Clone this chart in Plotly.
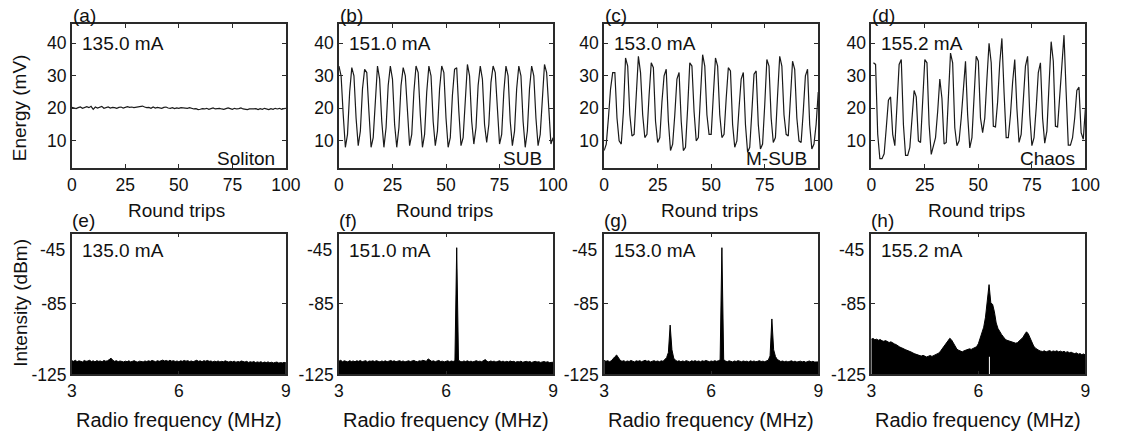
import plotly.graph_objects as go

# ---------------- data ----------------
round_trips_abc = list(range(0, 101))
round_trips_d = list(range(1, 101))

energy_soliton = [
    20.3, 20.1, 19.9, 20.2, 20.4, 20.0, 20.3, 20.5, 20.2, 20.6,
    19.7, 20.4, 20.1, 20.3, 20.6, 20.0, 20.2, 20.4, 20.1, 20.3,
    20.2, 20.0, 20.3, 20.4, 20.1, 20.2, 20.5, 20.3, 20.4, 20.2,
    20.3, 20.5, 20.6, 20.7, 20.4, 20.2, 20.3, 20.0, 20.4, 20.1,
    20.3, 20.2, 20.0, 20.3, 20.4, 20.1, 20.0, 20.2, 19.9, 20.1,
    20.0, 20.2, 20.1, 19.9, 20.0, 20.2, 20.0, 19.8, 19.9, 19.6,
    19.7, 19.9, 19.8, 20.0, 19.7, 19.9, 20.1, 19.8, 19.9, 20.0,
    19.8, 19.7, 19.9, 20.1, 19.9, 19.7, 20.0, 19.8, 19.9, 20.1,
    19.8, 19.7, 19.6, 19.8, 19.7, 19.8, 19.9, 19.6, 19.9, 19.7,
    20.0, 19.8, 19.6, 19.9, 19.7, 20.0, 19.8, 20.0, 19.7, 19.9,
    20.0,
]

energy_sub = [
    33, 30, 18, 8, 12, 25, 32.5, 30, 17, 8.5,
    13, 26, 32, 31, 19, 8, 11, 24, 33, 29,
    16, 8, 14, 27, 33, 29, 15, 8, 14, 27,
    32.5, 30, 17, 8.5, 12, 25, 33, 31, 18, 8,
    12, 25, 33, 30, 16, 8.5, 13, 26, 33, 31,
    17, 8, 11, 24, 32, 32.5, 19, 8.5, 11, 24,
    33.5, 30, 16, 9, 14, 27, 33, 29, 15, 9.5,
    15, 28, 33, 31, 18, 9, 12, 25, 33, 30,
    16, 8.5, 13, 26, 33, 30, 16, 8, 13, 26,
    33, 30, 17, 8.5, 12, 25, 33.5, 31, 18, 9,
    11,
]

energy_msub = [
    7, 9, 17, 26, 31, 31, 17, 10, 9, 19,
    35.5, 33, 18, 11.5, 12, 25, 36, 31, 18, 11,
    12, 24, 34, 32.5, 16, 9.5, 11, 22, 30, 32,
    16, 7, 9, 18, 29, 31, 16, 7, 8, 20,
    34, 33, 19, 10, 11, 24, 36.5, 33, 18, 12,
    12, 24, 35.5, 33, 18, 11, 12, 23, 32.5, 31.5,
    15, 8, 10, 20, 29, 31, 15, 6.5, 8, 19,
    30.5, 31.5, 15, 7.5, 9, 21, 35, 33, 17, 9.5,
    11, 24, 36, 33, 18, 12, 11.5, 23, 34.5, 32,
    17, 10, 9.5, 19, 30, 32, 15, 7.5, 9, 15,
    25,
]

energy_chaos = [
    34, 33.5, 12, 4.5, 4.5, 6, 14, 22.5, 23.5, 12,
    8.5, 20, 33.5, 35, 15, 5.5, 5.5, 8, 16, 25.5,
    23.5, 10, 9.5, 22, 35, 34, 15, 5.8, 8, 11,
    19, 29, 23, 9, 9.5, 22, 37, 34, 14, 8.5,
    10, 17, 27, 34.5, 18, 7.8, 11, 23, 36, 34.5,
    17, 12.5, 17, 29, 40, 34, 14.5, 14.3, 22, 34,
    41.5, 25, 11, 11, 18, 28, 35, 20, 9.5, 12,
    22, 33, 36, 18, 8.5, 11, 20, 31, 34, 17,
    9.3, 13, 27, 40.5, 34.5, 14.5, 14.3, 24, 36, 42.5,
    25, 8.7, 8.7, 11, 17, 25.5, 26.5, 12.5, 10.5, 20,
]

# RF spectra sampled every 0.05 MHz from 3 to 9 MHz
freq_mhz = [round(3 + 0.05 * i, 2) for i in range(121)]

rf_135 = [
    -117.2, -117.6, -117.0, -117.8, -117.3, -117.5, -117.9, -117.1, -117.6, -117.4,
    -117.0, -117.7, -117.3, -117.9, -117.2, -117.6, -117.4, -117.8, -117.1, -117.5,
    -117.3, -116.6, -115.8, -117.0, -117.6, -117.2, -117.8, -117.4, -117.6, -117.9,
    -117.5, -117.8, -117.3, -117.9, -117.6, -117.2, -117.8, -118.0, -117.5, -117.7,
    -117.9, -117.4, -117.7, -117.3, -117.6, -117.1, -117.5, -117.8, -117.2, -117.6,
    -117.3, -116.9, -117.4, -117.1, -117.6, -117.0, -117.5, -117.2, -117.7, -117.4,
    -117.8, -117.3, -117.6, -117.1, -117.5, -117.2, -117.7, -117.4, -117.8, -117.3,
    -117.0, -117.6, -117.3, -117.8, -117.2, -117.5, -117.1, -117.6, -117.4, -117.9,
    -117.5, -117.8, -117.4, -117.9, -117.6, -117.8, -117.3, -117.7, -118.0, -117.6,
    -117.9, -117.5, -118.1, -117.7, -117.9, -117.4, -117.8, -118.0, -117.6, -118.2,
    -117.8, -118.1, -117.7, -118.3, -117.9, -118.2, -117.8, -118.4, -118.0, -118.3,
    -117.9, -118.4, -118.1, -118.5, -118.2, -118.0, -118.6, -118.3, -118.5, -118.2,
    -118.4,
]

rf_151 = [
    -117.5, -117.0, -117.8, -117.3, -117.6, -117.9, -117.2, -117.7, -117.4, -117.8,
    -117.3, -117.6, -117.1, -117.8, -117.5, -117.2, -117.9, -117.4, -117.6, -117.3,
    -117.7, -117.2, -117.6, -117.9, -117.4, -117.7, -117.3, -117.8, -117.5, -117.1,
    -117.6, -117.3, -117.8, -117.5, -117.2, -117.7, -117.4, -117.9, -117.6, -117.3,
    -117.7, -117.4, -117.1, -117.6, -117.8, -117.3, -117.5, -117.0, -117.4, -117.6,
    -116.2, -117.2, -117.6, -117.3, -117.8, -117.4, -117.1, -117.7, -117.5, -117.9,
    -117.6, -117.3, -117.8, -117.4, -117.7, -117.2, -53.0, -117.0, -117.6, -117.9,
    -117.4, -117.7, -117.3, -117.8, -117.5, -117.9, -117.6, -117.2, -117.7, -117.5,
    -117.8, -117.3, -116.6, -117.6, -117.9, -117.4, -117.7, -117.5, -118.0, -117.6,
    -117.3, -117.8, -117.5, -118.0, -117.6, -117.9, -117.4, -117.8, -117.6, -118.1,
    -117.7, -117.9, -117.5, -118.1, -117.8, -117.6, -118.0, -117.7, -118.2, -117.9,
    -117.6, -118.0, -117.8, -118.2, -117.9, -117.7, -118.1, -117.8, -118.3, -118.0,
    -118.1,
]

rf_153 = [
    -117.0, -117.6, -117.2, -117.8, -117.3, -116.4, -115.0, -114.0, -115.5, -117.0,
    -117.6, -117.2, -117.8, -117.4, -117.7, -117.1, -117.5, -117.9, -117.3, -117.6,
    -117.2, -117.8, -117.4, -117.0, -117.6, -117.3, -117.9, -117.5, -117.2, -117.7,
    -117.4, -117.8, -117.3, -117.6, -116.8, -115.5, -112.5, -97.0, -111.0, -115.8,
    -117.0, -117.6, -117.3, -117.8, -117.4, -117.7, -117.2, -117.6, -117.9, -117.3,
    -117.6, -117.2, -117.7, -117.4, -117.8, -117.3, -117.6, -117.1, -117.5, -117.8,
    -117.4, -117.7, -117.2, -117.6, -117.3, -116.8, -53.0, -116.6, -117.4, -117.8,
    -117.3, -117.6, -117.9, -117.4, -117.7, -117.2, -117.6, -117.8, -117.4, -117.7,
    -117.5, -117.9, -117.3, -117.7, -117.4, -117.8, -117.6, -117.2, -117.7, -117.5,
    -117.8, -117.4, -116.9, -114.5, -93.5, -111.0, -114.8, -116.5, -117.3, -117.7,
    -117.4, -117.8, -117.5, -117.9, -117.6, -117.3, -117.8, -117.5, -118.0, -117.7,
    -117.5, -117.9, -117.6, -118.1, -117.7, -117.4, -117.9, -117.6, -118.0, -117.8,
    -117.9,
]

rf_155 = [
    -105.0, -104.6, -105.3, -105.0, -105.6, -105.2, -105.9, -106.2, -105.8, -106.6,
    -106.9, -106.5, -107.3, -107.7, -108.1, -108.9, -109.5, -109.9, -110.6, -110.9,
    -111.3, -111.6, -112.3, -112.6, -113.2, -113.6, -113.9, -114.4, -114.6, -114.2,
    -114.9, -115.1, -114.7, -114.3, -114.8, -114.4, -114.0, -113.6, -112.8, -111.5,
    -110.1, -108.6, -106.9, -105.6, -104.5, -105.4, -107.2, -108.9, -110.7, -111.3,
    -111.9, -112.2, -111.6, -111.2, -111.0, -110.5, -110.8, -110.2, -109.6, -109.3,
    -107.6, -104.5, -101.8, -98.2, -92.5, -83.0, -74.0, -84.5, -85.2, -89.5,
    -95.8, -98.9, -100.8, -102.3, -103.6, -105.0, -105.6, -106.0, -106.5, -106.8,
    -107.0, -107.3, -106.9, -106.0, -105.2, -104.0, -102.2, -100.8, -102.0, -104.3,
    -106.8, -108.9, -110.1, -110.9, -111.4, -111.8, -112.0, -111.6, -112.2, -111.8,
    -111.5, -112.1, -111.7, -112.0, -111.6, -112.2, -111.8, -112.3, -111.9, -112.5,
    -112.1, -112.7, -112.4, -112.9, -113.2, -112.8, -113.5, -113.2, -113.8, -113.4,
    -114.0,
]

# thin white gap seen inside the chaotic spectrum
notch_freq = [6.31, 6.31]
notch_level = [-125, -115]

currents = ["135.0 mA", "151.0 mA", "153.0 mA", "155.2 mA"]
states = ["Soliton", "SUB", "M-SUB", "Chaos"]
top_labels = ["(a)", "(b)", "(c)", "(d)"]
bottom_labels = ["(e)", "(f)", "(g)", "(h)"]
energy_ticks = [10, 20, 30, 40]
trip_ticks = [0, 25, 50, 75, 100]
freq_ticks = [3, 6, 9]
rf_ticks = [-125, -85, -45]

# ---------------- layout geometry (pixels) ----------------
W, H = 1123, 444
LEFTS = [68, 340, 610, 882]
PW = 218
TOP_ROW = (25, 172)
BOT_ROW = (239, 383)
FONT = "Liberation Sans, Arial, sans-serif"
FS = 19
TFS = 17.5
INK = "#111111"
AXC = "#2a2a2a"


def px(x):
    return x / W


def py(y):
    return 1 - y / H


fig = go.Figure()

top_series = [
    (round_trips_abc, energy_soliton),
    (round_trips_abc, energy_sub),
    (round_trips_abc, energy_msub),
    (round_trips_d, energy_chaos),
]
spectra = [rf_135, rf_151, rf_153, rf_155]

layout = dict(
    width=W, height=H,
    margin=dict(l=0, r=0, t=0, b=0, pad=0),
    paper_bgcolor="white", plot_bgcolor="white",
    showlegend=False,
    font=dict(family=FONT, size=FS, color=INK),
)

annotations = []


def ann(text, x, y, xanchor="left", yanchor="middle", textangle=0, size=FS):
    annotations.append(dict(text=text, x=px(x), y=py(y), xref="paper", yref="paper",
                            xanchor=xanchor, yanchor=yanchor, showarrow=False,
                            textangle=textangle,
                            font=dict(family=FONT, size=size, color=INK)))


for i in range(4):
    L = LEFTS[i]
    R = L + PW
    # top panel
    n = i + 1
    xa, ya = f"x{n}", f"y{n}"
    xs, ys = top_series[i]
    fig.add_trace(go.Scatter(x=xs, y=ys, mode="lines",
                             line=dict(color="#1a1a1a", width=1.2),
                             xaxis=xa, yaxis=ya, hoverinfo="skip"))
    common = dict(showline=True, linewidth=1.6, linecolor=AXC, mirror="ticks",
                  ticks="inside", ticklen=4, tickwidth=1.2, tickcolor=AXC,
                  showgrid=False, zeroline=False,
                  tickfont=dict(family=FONT, size=TFS, color=INK))
    layout[f"xaxis{n}"] = dict(domain=[px(L), px(R)], anchor=ya, range=[0, 100],
                               tickvals=trip_ticks, **common)
    layout[f"yaxis{n}"] = dict(domain=[py(TOP_ROW[1]), py(TOP_ROW[0])], anchor=xa,
                               range=[1.6, 45.8], tickvals=energy_ticks, **common)

    # bottom panel
    m = i + 5
    xb, yb = f"x{m}", f"y{m}"
    fig.add_trace(go.Scatter(x=freq_mhz, y=[-125] * len(freq_mhz), mode="lines",
                             line=dict(width=0, color="black"),
                             xaxis=xb, yaxis=yb, hoverinfo="skip"))
    fig.add_trace(go.Scatter(x=freq_mhz, y=spectra[i], mode="lines",
                             fill="tonexty", fillcolor="black",
                             line=dict(color="black", width=1),
                             xaxis=xb, yaxis=yb, hoverinfo="skip"))
    if i == 3:
        fig.add_trace(go.Scatter(x=notch_freq, y=notch_level, mode="lines",
                                 line=dict(color="white", width=1),
                                 xaxis=xb, yaxis=yb, hoverinfo="skip"))
    layout[f"xaxis{m}"] = dict(domain=[px(L), px(R)], anchor=yb, range=[3, 9],
                               tickvals=freq_ticks, **common)
    layout[f"yaxis{m}"] = dict(domain=[py(BOT_ROW[1]), py(BOT_ROW[0])], anchor=xb,
                               range=[-125, -45], tickvals=rf_ticks,
                               ticktext=["-125", "-85", ""], **common)

    ann(top_labels[i], L - 1, 16)
    ann(bottom_labels[i], L - 2, 226)
    ann(currents[i], L + 8, 44)
    ann(currents[i], L + 8, 256)
    ann(states[i], R - 9, 162, xanchor="right")
    ann("Round trips", (L + R) / 2 - 2, 215, xanchor="center")
    ann("Radio frequency (MHz)", (L + R) / 2, 430, xanchor="center", size=20)
    ann("-45", L - 5, 256, xanchor="right", size=TFS)

ann("Energy (mV)", 15, 110, xanchor="center", textangle=-90)
ann("Intensity (dBm)", 15, 310, xanchor="center", textangle=-90)

layout["annotations"] = annotations
fig.update_layout(**layout)
fig.write_html(
    "out.html",
    config={"displayModeBar": False},
    post_script="document.body.style.margin='0';document.body.style.overflow='hidden';",
)
